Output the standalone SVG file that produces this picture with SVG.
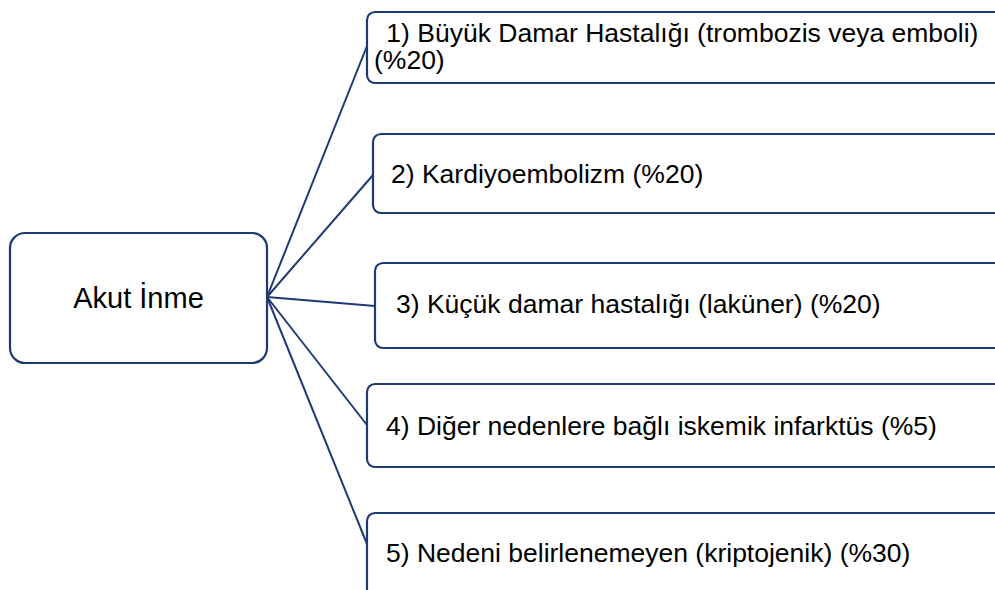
<svg xmlns="http://www.w3.org/2000/svg" width="995" height="590" viewBox="0 0 995 590">
<style>
.box{fill:#ffffff;stroke:#1f3a72;stroke-width:2.2}
.con{fill:none;stroke:#1f3a72;stroke-width:2}
.t{font-family:"Liberation Sans",Arial,sans-serif;font-size:26.5px;fill:#000}
.main{font-family:"Liberation Sans",Arial,sans-serif;font-size:29px;fill:#000;text-anchor:middle}
</style>
<rect width="995" height="590" fill="#ffffff"/>
<g id="connectors">
<line class="con" x1="267" y1="297" x2="367" y2="46"/>
<line class="con" x1="267" y1="297" x2="373" y2="175"/>
<line class="con" x1="267" y1="297" x2="375" y2="306"/>
<line class="con" x1="267" y1="297" x2="367" y2="425"/>
<line class="con" x1="267" y1="297" x2="367" y2="544"/>
</g>
<g id="akut-inme">
<rect class="box" x="10" y="233" width="257" height="130" rx="15"/>
<text class="main" x="138.5" y="308">Akut İnme</text>
</g>
<g id="node1">
<rect class="box" x="367" y="12" width="650" height="71" rx="8"/>
<text class="t" x="379" y="42" xml:space="preserve"> 1) Büyük Damar Hastalığı (trombozis veya emboli)</text>
<text class="t" x="374" y="69">(%20)</text>
</g>
<g id="node2">
<rect class="box" x="373" y="134" width="650" height="79" rx="8"/>
<text class="t" x="391" y="183">2) Kardiyoembolizm (%20)</text>
</g>
<g id="node3">
<rect class="box" x="375" y="263" width="650" height="85" rx="8"/>
<text class="t" x="396" y="313">3) Küçük damar hastalığı (laküner) (%20)</text>
</g>
<g id="node4">
<rect class="box" x="367" y="384" width="650" height="83" rx="8"/>
<text class="t" x="386" y="435">4) Diğer nedenlere bağlı iskemik infarktüs (%5)</text>
</g>
<g id="node5">
<rect class="box" x="367" y="513" width="650" height="100" rx="8"/>
<text class="t" x="386" y="562">5) Nedeni belirlenemeyen (kriptojenik) (%30)</text>
</g>
</svg>
